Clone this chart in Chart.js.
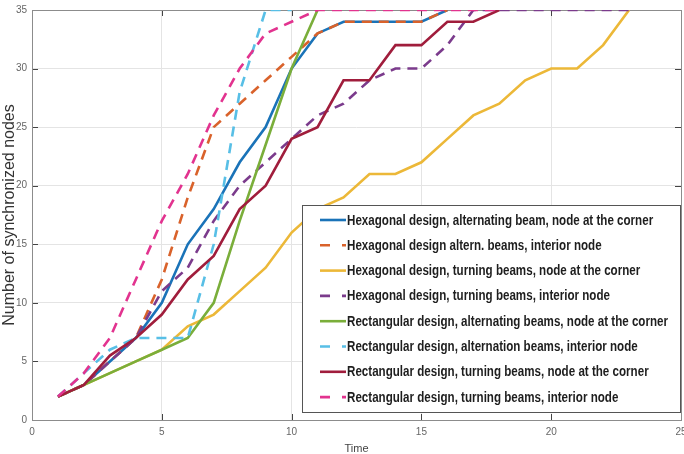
<!DOCTYPE html>
<html>
<head>
<meta charset="utf-8">
<script src="https://cdn.jsdelivr.net/npm/chart.js@4.4.1/dist/chart.umd.min.js"></script>
<style>
  html, body { margin: 0; padding: 0; background: #fff; }
  #wrap { width: 684px; height: 454px; position: relative; }
</style>
</head>
<body>
<div id="wrap"><canvas id="c" width="684" height="454"></canvas></div>
<script>
// ---- data ----
const seriesLabels = [
  "Hexagonal design, alternating beam, node at the corner",
  "Hexagonal design altern. beams, interior node",
  "Hexagonal design, turning beams, node at the corner",
  "Hexagonal design, turning beams, interior node",
  "Rectangular design, alternating beams, node at the corner",
  "Rectangular design, alternation beams, interior node",
  "Rectangular design, turning beams, node at the corner",
  "Rectangular design, turning beams, interior node"
];
// time steps 1, 2, 3, ... for each series
const hexAltCorner     = [2, 3, 5, 7, 10, 15, 18, 22, 25, 30, 33, 34, 34, 34, 34, 35];
const hexAltInterior   = [2, 3, 5, 7, 12, 19, 25, 27, 29, 31, 33, 34, 34, 34, 34, 35];
const hexTurnCorner    = [2, 3, 4, 5, 6, 8, 9, 11, 13, 16, 18, 19, 21, 21, 22, 24, 26, 27, 29, 30, 30, 32, 35];
const hexTurnInterior  = [2, 3, 5, 7, 11, 13, 17, 20, 22, 24, 26, 27, 29, 30, 30, 32, 35, 35, 35, 35, 35, 35, 35];
const rectAltCorner    = [2, 3, 4, 5, 6, 7, 10, 17, 23.5, 30, 35];
const rectAltInterior  = [2, 4, 6, 7, 7, 7, 15, 28, 35, 35];
const rectTurnCorner   = [2, 3, 5.5, 7, 9, 12, 14, 18, 20, 24, 25, 29, 29, 32, 32, 34, 34, 35];
const rectTurnInterior = [2, 4, 7, 12, 17, 21, 26, 30, 33, 34, 35, 35, 35, 35, 35, 35, 35, 35];
const xTicks = [0, 5, 10, 15, 20, 25];
const yTicks = [0, 5, 10, 15, 20, 25, 30, 35];

const seriesValues = [hexAltCorner, hexAltInterior, hexTurnCorner, hexTurnInterior,
                      rectAltCorner, rectAltInterior, rectTurnCorner, rectTurnInterior];
const colors = ['#1a73b8', '#d9622b', '#ecb838', '#7b3b8c', '#7aae3a', '#58bfe6', '#a01d3c', '#e2338f'];
const dashed = [false, true, false, true, false, true, false, true];

const datasets = seriesValues.map((vals, i) => ({
  label: seriesLabels[i],
  data: vals.map((v, k) => ({ x: k + 1, y: v })),
  borderColor: colors[i],
  backgroundColor: colors[i],
  borderWidth: 2.6,
  borderDash: dashed[i] ? [10, 7] : [],
  pointRadius: 0,
  tension: 0,
  fill: false,
  order: seriesValues.length - 1 - i
}));

const FONT = "'Liberation Sans', Arial, sans-serif";

const framePlugin = {
  id: 'frame',
  beforeDatasetsDraw(chart) {
    const { ctx, chartArea: a, scales } = chart;
    ctx.save();
    ctx.strokeStyle = '#444';
    ctx.lineWidth = 1;
    const L = 6;
    ctx.beginPath();
    xTicks.forEach(t => {
      const px = Math.round(scales.x.getPixelForValue(t)) + 0.5;
      ctx.moveTo(px, a.bottom); ctx.lineTo(px, a.bottom - L);
      ctx.moveTo(px, a.top); ctx.lineTo(px, a.top + L);
    });
    yTicks.forEach(t => {
      const py = Math.round(scales.y.getPixelForValue(t)) + 0.5;
      ctx.moveTo(a.left, py); ctx.lineTo(a.left + L, py);
      ctx.moveTo(a.right, py); ctx.lineTo(a.right - L, py);
    });
    ctx.stroke();
    ctx.strokeStyle = '#8c8c8c';
    ctx.strokeRect(Math.round(a.left) + 0.5, Math.round(a.top) + 0.5,
                   Math.round(a.right - a.left), Math.round(a.bottom - a.top));
    ctx.restore();
  },
  afterDraw(chart) {
    const { ctx } = chart;
    const bx = 302, by = 205, bw = 378, bh = 207;
    ctx.save();
    ctx.fillStyle = '#fff';
    ctx.fillRect(bx, by, bw, bh);
    ctx.strokeStyle = '#555';
    ctx.lineWidth = 1;
    ctx.strokeRect(bx + 0.5, by + 0.5, bw, bh);
    ctx.font = "bold 14.5px " + FONT;
    ctx.textBaseline = 'middle';
    ctx.textAlign = 'left';
    const longest = Math.max(...seriesLabels.map(l => ctx.measureText(l).width));
    const k = Math.min(1, 321 / longest);
    seriesLabels.forEach((lab, i) => {
      const y = 220 + i * 25.3;
      ctx.beginPath();
      ctx.strokeStyle = colors[i];
      ctx.lineWidth = 2.6;
      ctx.setLineDash(dashed[i] ? [10, 12] : []);
      ctx.moveTo(320, y); ctx.lineTo(346, y);
      ctx.stroke();
      ctx.setLineDash([]);
      ctx.fillStyle = '#1e1e1e';
      ctx.save();
      ctx.translate(347, y + 0.5);
      ctx.scale(k, 1);
      ctx.fillText(lab, 0, 0);
      ctx.restore();
    });
    ctx.restore();
  }
};

new Chart(document.getElementById('c'), {
  type: 'line',
  data: { datasets },
  plugins: [framePlugin],
  options: {
    responsive: false,
    animation: false,
    layout: { padding: { top: 10, right: 3, left: 0, bottom: 0 } },
    plugins: { legend: { display: false }, tooltip: { enabled: false } },
    scales: {
      x: {
        type: 'linear', min: 0, max: 25,
        afterFit: s => { s.height = 34; s.paddingLeft = 0; s.paddingRight = 0; },
        afterBuildTicks: s => { s.ticks = xTicks.map(v => ({ value: v })); },
        grid: { color: '#e4e4e4', drawTicks: false },
        border: { display: false },
        ticks: { padding: 6, color: '#666', font: { family: FONT, size: 10 }, maxRotation: 0 },
        title: { display: true, text: 'Time', color: '#444', font: { family: FONT, size: 11, lineHeight: 1 }, padding: { top: 0, bottom: 0 } }
      },
      y: {
        type: 'linear', min: 0, max: 35,
        afterFit: s => { s.width = 32; s.paddingTop = 0; s.paddingBottom = 0; },
        afterBuildTicks: s => { s.ticks = yTicks.map(v => ({ value: v })); },
        grid: { color: '#e4e4e4', drawTicks: false },
        border: { display: false },
        ticks: { padding: 5, color: '#666', font: { family: FONT, size: 10 } },
        title: { display: true, text: 'Number of synchronized nodes', color: '#333', font: { family: FONT, size: 16, lineHeight: 1.2 }, padding: { top: 0, bottom: 0 } }
      }
    }
  }
});
</script>
</body>
</html>
